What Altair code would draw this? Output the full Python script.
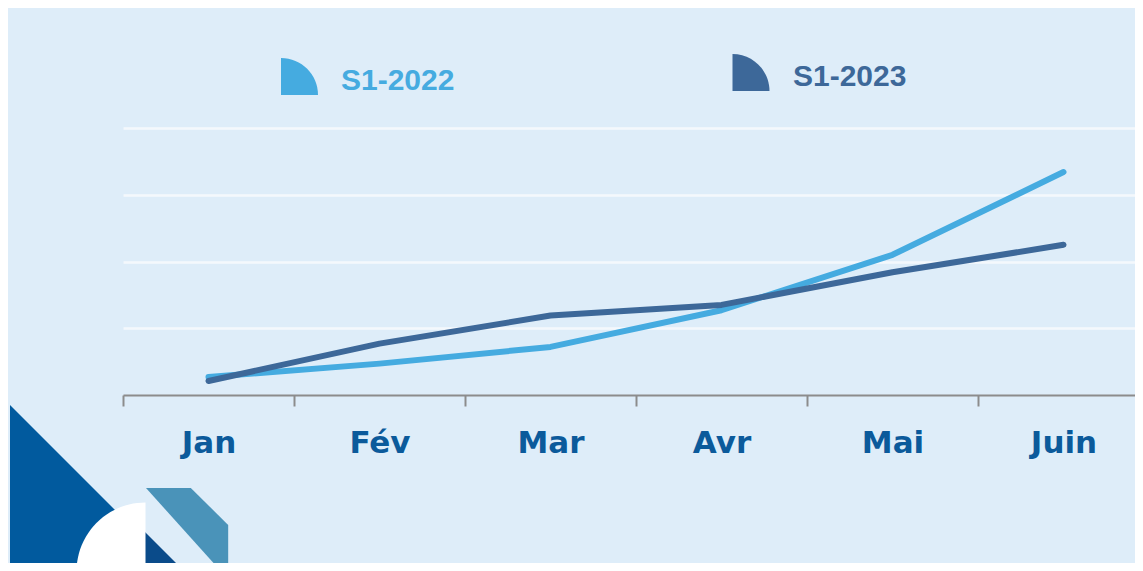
import altair as alt
import pandas as pd

months = ["Jan", "Fév", "Mar", "Avr", "Mai", "Juin"]
series_names = ["S1-2022", "S1-2023"]
s1_2022 = [0.27, 0.47, 0.72, 1.27, 2.10, 3.34]
s1_2023 = [0.21, 0.77, 1.19, 1.35, 1.84, 2.25]
series_colors = ["#45ABE0", "#3D6899"]
grid_values = [1, 2, 3, 4]

rows = []
for name, vals in zip(series_names, [s1_2022, s1_2023]):
    for m, v in zip(months, vals):
        rows.append({"month": m, "value": v, "series": name})
df = pd.DataFrame(rows)

x_enc = alt.X(
    "month:N",
    sort=months,
    scale=alt.Scale(paddingInner=0, paddingOuter=0, range=[0, 1026]),
    axis=alt.Axis(
        title=None,
        labelAngle=0,
        labelFont="DejaVu Sans",
        labelFontWeight="bold",
        labelFontSize=31,
        labelColor="#0B5A9B",
        labelPadding=22,
        domainColor="#8C8C8C",
        domainWidth=2,
        tickColor="#8C8C8C",
        tickWidth=2,
        tickSize=11,
        tickBand="extent",
        grid=False,
    ),
)
y_enc = alt.Y(
    "value:Q",
    scale=alt.Scale(domain=[0, 4]),
    axis=alt.Axis(
        title=None,
        labels=False,
        ticks=False,
        domain=False,
        grid=True,
        gridColor="#F4F8FC",
        gridWidth=2.5,
        values=grid_values,
    ),
)

lines = alt.Chart(df).mark_line(strokeWidth=6, strokeCap="round", strokeJoin="round").encode(
    x=x_enc,
    y=y_enc,
    color=alt.Color("series:N", scale=alt.Scale(domain=series_names, range=series_colors), legend=None),
    order=alt.Order("series:N"),
    detail="series:N",
)

one = alt.Data(values=[{"k": 0}])


def shape(path, cx, cy, size, color):
    return alt.Chart(one).mark_point(
        shape=path, filled=True, opacity=1, strokeWidth=0, fill=color, size=size
    ).encode(x=alt.value(cx), y=alt.value(cy))


quarter = "M -1 1 L -1 -1 A 2 2 0 0 1 1 1 Z"
white_quarter = "M 1 1 L 1 -1 A 2 2 0 0 0 -1 1 Z"
tri = "M -1 -1 L -1 1 L 1 1 Z"
para = "M -1 -1 L 0.08 -1 L 0.98 -0.11 L 0.98 1.2 Z"

legend_layers = []
leg_pos = [((176.5, -51.5), (218, -38)), ((628, -55.5), (670, -42))]
for name, color, (ipos, tpos) in zip(series_names, series_colors, leg_pos):
    legend_layers.append(shape(quarter, ipos[0], ipos[1], 37 * 37, color))
    legend_layers.append(
        alt.Chart(alt.Data(values=[{"s": name}])).mark_text(
            font="Liberation Sans", fontWeight="bold", fontSize=30, align="left",
            baseline="alphabetic", color=color,
        ).encode(text="s:N", x=alt.value(tpos[0]), y=alt.value(tpos[1]))
    )

deco = [
    shape(tri, -13, 377, 200 * 200, "#015A9E"),
    shape(tri, 52, 434, 60 * 60, "#0A4B8A"),
    shape(white_quarter, -12, 409, 69 * 69, "#FFFFFF"),
    shape(para, 64.5, 401.5, 83 * 83, "#4A93B9"),
]

chart = alt.layer(*deco, lines, *legend_layers).properties(
    width=1012,
    height=267,
    padding={"left": 115, "top": 120, "right": 0, "bottom": 168},
    autosize=alt.AutoSizeParams(type="none"),
    background="#DEEDF9",
).configure_view(stroke=None)

chart.save("out.html", embed_options={"renderer": "svg", "actions": False})
